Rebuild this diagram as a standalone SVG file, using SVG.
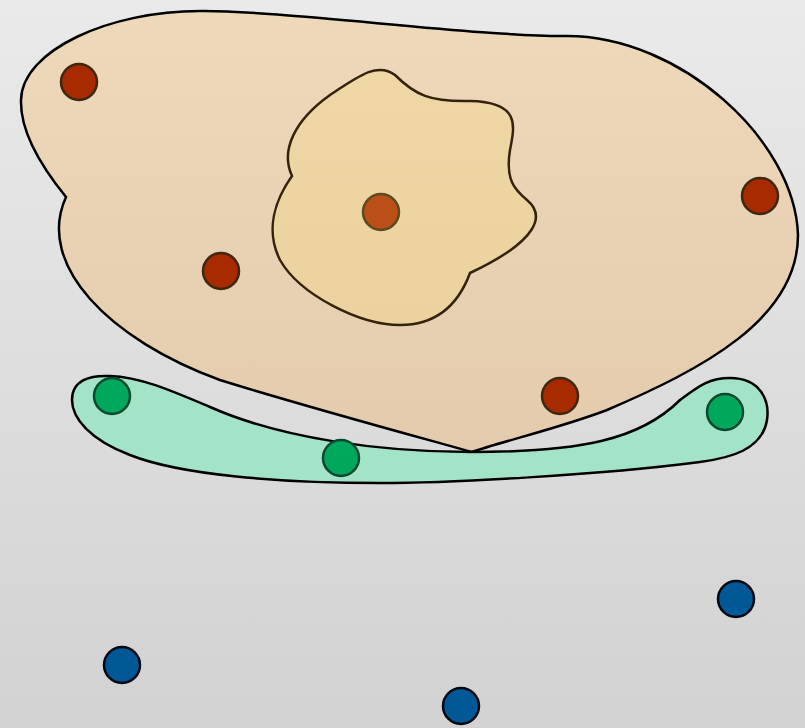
<svg xmlns="http://www.w3.org/2000/svg" width="805" height="728" viewBox="0 0 805 728">
<defs>
<linearGradient id="bg" x1="0" y1="0" x2="0" y2="1">
<stop offset="0" stop-color="#eaeaea"/>
<stop offset="1" stop-color="#d2d2d2"/>
</linearGradient>
<linearGradient id="outerFill" x1="0" y1="0" x2="0" y2="1">
<stop offset="0" stop-color="#eed9ba"/>
<stop offset="1" stop-color="#e4cbad"/>
</linearGradient>
<linearGradient id="innerFill" x1="0" y1="0" x2="0" y2="1">
<stop offset="0" stop-color="#efd8a6"/>
<stop offset="1" stop-color="#ebd29e"/>
</linearGradient>
<style>
.red{fill:#a82a00;stroke:#3f2810;stroke-width:2.5}
.orange{fill:#ba5018;stroke:#5e4a1e;stroke-width:2.5}
.green{fill:#00a85e;stroke:#0c4a30;stroke-width:2.5}
.blue{fill:#005896;stroke:#050a12;stroke-width:2.5}
.region{stroke:#000;stroke-width:2.5}
</style>
</defs>
<rect width="805" height="728" fill="url(#bg)"/>
<g id="regions">
<path id="outer" class="region" fill="url(#outerFill)" d="M 66,197 C 40,165 20,130 21,100 C 22,50 110,11 200,11 C 280,10 480,37 567,36 C 680,36 795,140 798,235 C 798,320 700,370 607,410 C 560,428 500,442 472,452 C 400,432 300,405 220,380 C 110,340 35,265 66,197 Z"/>
<path id="inner" fill="url(#innerFill)" stroke="#35220c" stroke-width="2.5" d="M 292,176 C 280,150 295,120 330,95 C 360,75 378,62 395,75 C 415,95 430,102 470,101 C 520,102 515,125 510,150 C 505,180 515,190 527,200 C 545,215 540,240 470,273 C 460,300 440,325 400,325 C 360,325 300,295 280,260 C 265,230 275,200 292,176 Z"/>
<path id="green-region" class="region" fill="#a3e3c8" d="M 72,400 C 72,380 90,375 110,376 C 140,377 170,390 210,407 C 280,438 380,452 470,452 C 580,452 640,440 680,400 C 700,385 710,378 730,378 C 760,378 770,400 767,420 C 762,450 730,458 700,462 C 600,475 450,483 380,483 C 280,483 180,475 130,455 C 90,440 72,418 72,400 Z"/>
</g>
<g id="n-red1"><circle class="red" cx="79" cy="82" r="18"/></g>
<g id="n-red2"><circle class="red" cx="221" cy="271" r="18"/></g>
<g id="n-red3"><circle class="red" cx="760" cy="196" r="18"/></g>
<g id="n-red4"><circle class="red" cx="560" cy="396" r="18"/></g>
<g id="n-orange"><circle class="orange" cx="381" cy="212" r="18"/></g>
<g id="n-green1"><circle class="green" cx="112" cy="396" r="18"/></g>
<g id="n-green2"><circle class="green" cx="341" cy="458" r="18"/></g>
<g id="n-green3"><circle class="green" cx="725" cy="412" r="18"/></g>
<g id="n-blue1"><circle class="blue" cx="122" cy="665" r="18"/></g>
<g id="n-blue2"><circle class="blue" cx="736" cy="599" r="18"/></g>
<g id="n-blue3"><circle class="blue" cx="461" cy="706" r="18"/></g>
<g id="connectors"/>
</svg>
